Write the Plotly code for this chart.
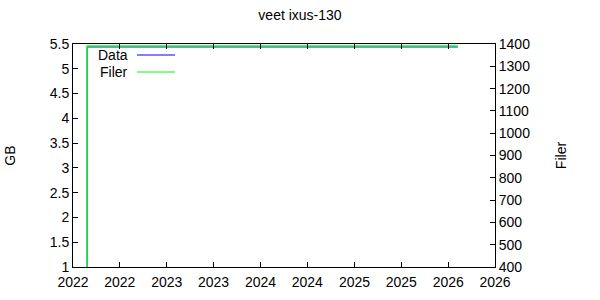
import plotly.graph_objects as go

# ---- data ----
dates = ["2022-02-24", "2022-02-25", "2026-02-07"]
gb_values = [0.0, 5.44, 5.44]
filer_values = [0, 1391, 1391]

x_tickvals = ["2022-01-01", "2022-07-02", "2023-01-01", "2023-07-02", "2024-01-01",
              "2024-07-01", "2025-01-01", "2025-07-02", "2026-01-01", "2026-07-02"]
x_ticktext = ["2022", "2022", "2023", "2023", "2024", "2024", "2025", "2025", "2026", "2026"]
gb_ticks = [1, 1.5, 2, 2.5, 3, 3.5, 4, 4.5, 5, 5.5]
filer_ticks = [400, 500, 600, 700, 800, 900, 1000, 1100, 1200, 1300, 1400]

FONT = "Liberation Sans, Arial, sans-serif"
FS = 14
L, R, T, B = 73, 495, 44, 267

fig = go.Figure()
fig.add_trace(go.Scatter(x=dates, y=gb_values, mode="lines", name="Data",
                         line=dict(color="#0000ff", width=1, shape="hv"), yaxis="y"))
fig.add_trace(go.Scatter(x=dates, y=filer_values, mode="lines", name="Filer",
                         line=dict(color="#00ff00", width=1.3, shape="hv"), yaxis="y2"))

axis_common = dict(showgrid=False, zeroline=False, showline=True, linecolor="black",
                   linewidth=1, ticks="inside", ticklen=5, tickcolor="black",
                   tickfont=dict(family=FONT, size=FS, color="black"))

fig.update_layout(
    width=600, height=300,
    margin=dict(l=L, r=600 - R, t=T, b=300 - B, autoexpand=False),
    paper_bgcolor="white", plot_bgcolor="white",
    showlegend=False,
    title=dict(text="veet ixus-130", x=0.5, xanchor="center",
               y=1 - 15 / 300, yanchor="middle",
               font=dict(family=FONT, size=FS, color="black")),
    xaxis=dict(type="date", range=["2022-01-01", "2026-07-02"],
               tickmode="array", tickvals=x_tickvals, ticktext=x_ticktext,
               mirror=True, ticklabelstandoff=2, automargin=False, **axis_common),
    xaxis2=dict(type="date", range=["2022-01-01", "2026-07-02"], overlaying="x",
                side="top", anchor="y", tickmode="array", tickvals=x_tickvals,
                showticklabels=False, showgrid=False, zeroline=False, showline=False,
                ticks="inside", ticklen=5, tickcolor="black"),
    yaxis=dict(range=[1, 5.5], tickmode="array", tickvals=gb_ticks,
               ticktext=[("%g" % v) for v in gb_ticks], mirror=False,
               title=dict(text="GB", font=dict(family=FONT, size=FS, color="black"),
                          standoff=30),
               **axis_common),
    yaxis2=dict(range=[400, 1400], overlaying="y", side="right", anchor="x",
                tickmode="array", tickvals=filer_ticks,
                title=dict(text="Filer", font=dict(family=FONT, size=FS, color="black"),
                           standoff=27),
                **axis_common),
)

# invisible trace to activate the top tick axis
fig.add_trace(go.Scatter(x=[dates[0]], y=[gb_values[1]], mode="lines", xaxis="x2",
                         yaxis="y", showlegend=False, hoverinfo="skip",
                         line=dict(color="rgba(0,0,0,0)")))

def px_x(p):
    return (p - L) / (R - L)

def px_y(p):
    return 1 - (p - T) / (B - T)

# gnuplot-style key: text right-aligned, sample line to the right
key_items = [("Data", "#0000ff", 55), ("Filer", "#00ff00", 72)]
for label, color, ypx in key_items:
    fig.add_annotation(x=px_x(130), y=px_y(ypx), xref="paper", yref="paper",
                       text=label, showarrow=False, xanchor="right", yanchor="middle",
                       font=dict(family=FONT, size=FS, color="black"))
    fig.add_shape(type="line", xref="paper", yref="paper",
                  x0=px_x(137), x1=px_x(175), y0=px_y(ypx), y1=px_y(ypx),
                  line=dict(color=color, width=1))

fig.write_html("out.html")
